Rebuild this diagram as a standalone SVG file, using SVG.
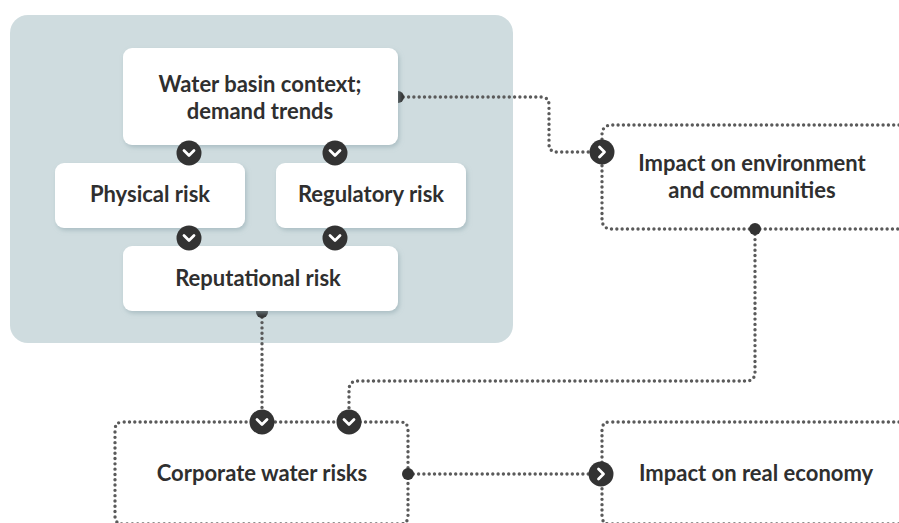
<svg xmlns="http://www.w3.org/2000/svg" width="899" height="523" viewBox="0 0 899 523">
<defs>
<filter id="sh" x="-10%" y="-10%" width="130%" height="140%">
<feDropShadow dx="1.5" dy="2.5" stdDeviation="2" flood-color="#8fa7ae" flood-opacity="0.55"/>
</filter>
<g id="chevDown"><circle r="12.5" fill="#333"/><path d="M-5,-2.5 L0,2.5 L5,-2.5" fill="none" stroke="#fff" stroke-width="2.8" stroke-linecap="round" stroke-linejoin="round"/></g>
<g id="chevRight"><circle r="12.5" fill="#333"/><path d="M-2.5,-5 L2.5,0 L-2.5,5" fill="none" stroke="#fff" stroke-width="2.8" stroke-linecap="round" stroke-linejoin="round"/></g>
</defs>
<style>
.box{fill:#fff;filter:url(#sh)}
.t{font-family:Lato,"Open Sans","Liberation Sans",sans-serif;font-weight:700;font-size:22px;fill:#2f2f2f;text-anchor:middle}
.tl{font-family:Lato,"Open Sans","Liberation Sans",sans-serif;font-weight:700;font-size:22px;fill:#2f2f2f;text-anchor:start}
.dot{fill:none;stroke:#5a5a5a;stroke-width:3.4;stroke-dasharray:0 5.3;stroke-linecap:round}
</style>
<rect width="899" height="523" fill="#fff"/>
<rect id="panel" x="10" y="15" width="503" height="328" rx="18" fill="#cfdcdf"/>

<g id="connectors">
<path class="dot" d="M398,97 H541 Q549,97 549,105 V144 Q549,152 557,152 H592"/>
<path class="dot" d="M899,125 H612 Q602,125 602,135 V219 Q602,229 612,229 H899"/>
<path class="dot" d="M755,229 V372 Q755,381 746,381 H358 Q349,381 349,390 V422"/>
<path class="dot" d="M262,312 V422"/>
<path class="dot" d="M262,422 H123 Q115,422 115,430 V516 Q115,524 123,524 H400 Q408,524 408,516 V430 Q408,422 400,422 H262"/>
<path class="dot" d="M408,474 H592"/>
<path class="dot" d="M899,422 H610 Q602,422 602,430 V516 Q602,524 610,524 H899"/>
<circle fill="#333" cx="398" cy="97" r="6"/>
<circle fill="#333" cx="755" cy="229" r="6"/>
<circle fill="#333" cx="262" cy="312" r="6"/>
<circle fill="#333" cx="408" cy="474" r="6"/>
<use href="#chevRight" x="602" y="152"/>
<use href="#chevDown" x="262" y="422"/>
<use href="#chevDown" x="349" y="422"/>
<use href="#chevRight" x="601" y="474"/>
</g>

<g id="n-basin">
<rect class="box" x="123" y="48" width="275" height="97" rx="9"/>
<text class="t" x="260" y="92">Water basin context;</text>
<text class="t" x="260" y="119">demand trends</text>
</g>
<g id="n-physical">
<rect class="box" x="55" y="163" width="190" height="65" rx="9"/>
<text class="t" x="150" y="202">Physical risk</text>
</g>
<g id="n-regulatory">
<rect class="box" x="276" y="163" width="190" height="65" rx="9"/>
<text class="t" x="371" y="202">Regulatory risk</text>
</g>
<g id="n-reputational">
<rect class="box" x="123" y="246" width="275" height="65" rx="9"/>
<text class="t" x="258" y="286">Reputational risk</text>
</g>
<g id="arrows-inner">
<use href="#chevDown" x="189" y="153"/>
<use href="#chevDown" x="335" y="153"/>
<use href="#chevDown" x="189" y="238"/>
<use href="#chevDown" x="335" y="238"/>
</g>
<g id="n-env">
<text class="t" x="752" y="171">Impact on environment</text>
<text class="t" x="752" y="198">and communities</text>
</g>
<g id="n-corporate">
<text class="t" x="262" y="481">Corporate water risks</text>
</g>
<g id="n-economy">
<text class="tl" x="639" y="481">Impact on real economy</text>
</g>
</svg>
